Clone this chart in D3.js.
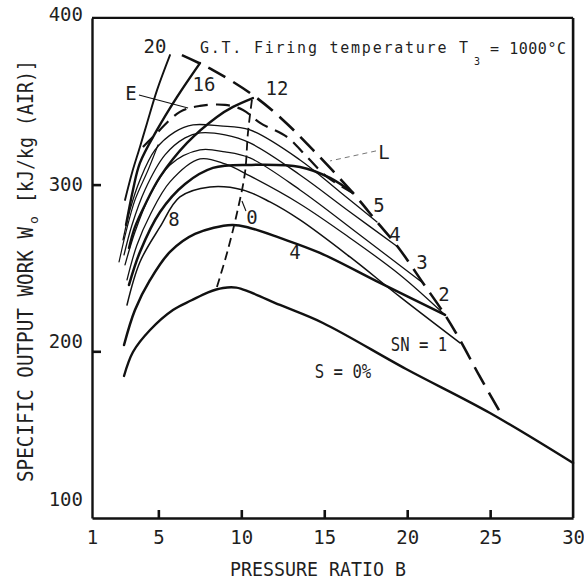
<!DOCTYPE html>
<html>
<head>
<meta charset="utf-8">
<script src="https://cdn.jsdelivr.net/npm/d3@7"></script>
<style>
  html, body { margin: 0; padding: 0; background: #fff; }
  svg { display: block; }
  text { font-family: "DejaVu Sans Mono", monospace; fill: #1f1f1f; }
</style>
</head>
<body>
<svg id="chart" width="584" height="582"></svg>
<script>
// Axis ticks
const xTicks = [1, 5, 10, 15, 20, 25, 30];
const yTicks = [100, 200, 300, 400];

// Specific output work [kJ/kg] against pressure ratio, one array per curve
const curveS0 = [[2.93,185.2],[3.47,199.6],[4.50,212.8],[5.88,224.8],[7.0,230.6],[8.0,235.4],[8.9,238.0],[9.7,238.2],[10.5,235.6],[12.33,227.8],[14.92,217.0],[19.93,189.4],[24.99,163.0],[30.0,133.0]];
const curve4  = [[2.93,203.8],[3.59,224.8],[4.50,242.8],[5.70,259.6],[7.21,270.4],[9.44,275.8],[10.52,274.0],[12.33,268.0],[14.74,259.0],[18.36,241.0],[22.28,221.8]];
const curve8  = [[3.11,227.8],[3.89,253.6],[5.10,274.6],[6.30,292.6],[8.11,298.6],[10.10,296.8],[11.73,289.6],[13.54,278.8],[16.55,256.6],[19.57,232.6],[23.18,205.0]];
const curveL  = [[3.23,239.8],[3.89,259.6],[5.10,283.6],[6.61,300.4],[8.29,310.0],[10.52,311.8],[13.54,310.6],[15.35,304.0],[16.73,295.0]];
const curveSN2 = [[3.11,242.8],[3.71,263.8],[4.50,281.8],[5.70,301.6],[7.51,315.4],[9.02,312.4],[10.52,305.2],[13.54,288.4],[16.55,268.0],[19.57,245.8],[22.28,221.8]];
const curveSN3 = [[2.99,251.8],[3.59,271.6],[4.50,293.8],[5.70,311.8],[7.51,320.8],[9.02,319.6],[10.52,316.0],[13.54,296.8],[17.15,269.8],[20.95,241.0]];
const curveSN4 = [[2.93,257.8],[3.41,275.8],[4.19,296.8],[5.40,317.8],[6.61,328.0],[7.51,331.0],[9.02,329.8],[10.52,325.0],[13.54,305.8],[16.55,283.6],[19.44,262.6]];
const curveSN5 = [[2.87,266.8],[3.29,284.8],[3.89,302.8],[4.80,320.8],[6.00,331.6],[7.09,335.8],[8.72,335.2],[10.52,332.8],[13.54,314.8],[15.95,295.6],[18.18,277.6]];
const curve12 = [[3.23,262.0],[3.59,274.6],[4.19,287.8],[5.10,304.6],[6.73,325.0],[8.53,340.6],[9.50,346.6],[10.70,351.9]];
const curve16 = [[3.05,275.8],[3.47,296.8],[3.89,313.0],[4.92,332.8],[6.12,352.5],[7.51,372.9]];
const curve20 = [[2.99,290.8],[3.41,307.0],[3.89,322.6],[4.32,337.0],[4.92,356.7],[5.70,377.7]];
const curveSteep = [[2.63,253.6],[3.05,271.6],[3.59,290.8],[4.38,308.8],[4.98,323.8]];

// Dashed boundaries
const envelopeOuter = [[6.42,377.7],[8.29,368.7],[10.70,353.7],[12.51,338.8],[14.32,320.8],[16.73,295.0],[18.18,277.6],[19.44,262.6],[20.95,241.0],[22.28,221.8],[23.18,206.8],[24.39,184.6],[25.77,160.6]];
const envelopeE = [[4.07,322.6],[4.68,328.6],[6.30,343.6],[7.51,347.2],[9.02,347.8],[10.10,344.8],[11.13,337.0],[12.75,328.6],[13.96,316.6],[15.17,304.6],[16.73,295.0]];
const optimumLine = [[8.53,238.6],[9.14,259.0],[9.74,283.0],[10.22,307.0],[10.40,331.0],[10.64,350.8]];

// Curve annotations (text, pressure ratio, work)
const labels = [
  ["20", 4.80, 383.1], ["16", 7.75, 360.1], ["12", 12.15, 357.7], ["E", 3.35, 354.6],
  ["L", 18.60, 319.6], ["5", 18.30, 287.8], ["4", 19.26, 270.4], ["3", 20.89, 253.6],
  ["2", 22.22, 234.4], ["8", 5.94, 279.4], ["0", 10.64, 280.6], ["4", 13.24, 259.6],
  ["SN = 1", 20.71, 204.4], ["S = 0%", 16.13, 188.5]
];
// Leader lines from labels to curves
const leaders = [
  {from: [3.83, 353.7], to: [6.79, 346.0], dashed: false},
  {from: [18.12, 320.2], to: [15.35, 314.2], dashed: true},
  {from: [10.28, 284.2], to: [10.04, 290.2], dashed: false}
];

const svg = d3.select("#chart");
const x = d3.scaleLinear().domain([1, 30]).range([92, 573.1]);
const y = d3.scaleLinear().domain([100, 400]).range([518, 17.9]);
const line = d3.line().x(d => x(d[0])).y(d => y(d[1])).curve(d3.curveCatmullRom.alpha(0.5));

// Frame (top and right edges)
const frame = svg.append("g").attr("stroke", "#111").attr("fill", "none").attr("stroke-width", 2.2);
frame.append("line").attr("x1", x(1)).attr("x2", x(30)).attr("y1", y(400)).attr("y2", y(400));
frame.append("line").attr("x1", x(30)).attr("x2", x(30)).attr("y1", y(400)).attr("y2", y(100)).attr("stroke-width", 2.6);

// Axes with inward ticks
const gx = svg.append("g").attr("transform", `translate(0,${y(100)})`)
  .call(d3.axisBottom(x).tickValues(xTicks).tickSize(-8).tickSizeOuter(0).tickPadding(13).tickFormat(d3.format("d")));
const gy = svg.append("g").attr("transform", `translate(${x(1)},0)`)
  .call(d3.axisLeft(y).tickValues(yTicks).tickSize(-9).tickSizeOuter(0).tickPadding(9).tickFormat(d3.format("d")));
[gx, gy].forEach(g => {
  g.attr("font-family", "DejaVu Sans Mono, monospace").attr("font-size", 19).attr("color", "#111");
  g.select(".domain").attr("stroke-width", 2.4);
  g.selectAll(".tick line").attr("stroke-width", 2.6);
  g.selectAll("text").attr("fill", "#1f1f1f");
});
gx.selectAll(".tick line").filter(d => d === 1 || d === 30).remove();
gy.selectAll(".tick line").filter(d => d === 100 || d === 400).remove();
// corner labels sit a little higher than their ticks
const yNudge = {100: -19, 200: -10, 400: -3};
gy.selectAll(".tick text").attr("y", d => yNudge[d] || 0);

// Solid curves
const solids = [
  {pts: curveS0, w: 2.4}, {pts: curve4, w: 2.5}, {pts: curve8, w: 1.5},
  {pts: curveL, w: 2.5}, {pts: curveSN2, w: 1.3}, {pts: curveSN3, w: 1.3},
  {pts: curveSN4, w: 1.3}, {pts: curveSN5, w: 1.3}, {pts: curve12, w: 2.4},
  {pts: curve16, w: 2.4}, {pts: curve20, w: 1.9}, {pts: curveSteep, w: 1.2}
];
svg.append("g").attr("fill", "none").attr("stroke", "#111").attr("stroke-linecap", "round")
  .selectAll("path").data(solids).join("path")
  .attr("d", d => line(d.pts)).attr("stroke-width", d => d.w);

// Dashed curves
const dashed = [
  {pts: envelopeOuter, w: 2.6, dash: "20,9"},
  {pts: envelopeE, w: 2.2, dash: "14,8"},
  {pts: optimumLine, w: 1.8, dash: "9,5"}
];
svg.append("g").attr("fill", "none").attr("stroke", "#111")
  .selectAll("path").data(dashed).join("path")
  .attr("d", d => line(d.pts)).attr("stroke-width", d => d.w).attr("stroke-dasharray", d => d.dash);

// Leaders
svg.append("g").selectAll("line").data(leaders).join("line")
  .attr("x1", d => x(d.from[0])).attr("y1", d => y(d.from[1]))
  .attr("x2", d => x(d.to[0])).attr("y2", d => y(d.to[1]))
  .attr("stroke", d => d.dashed ? "#666" : "#111")
  .attr("stroke-width", d => d.dashed ? 0.9 : 1.1)
  .attr("stroke-dasharray", d => d.dashed ? "5,4" : null);

// Curve labels
svg.append("g").selectAll("text").data(labels).join("text")
  .attr("x", d => x(d[1])).attr("y", d => y(d[2])).attr("dy", "0.36em")
  .attr("text-anchor", "middle").attr("font-size", d => d[0].length > 2 ? 20 : 19)
  .text(d => d[0])
  .each(function(d) {
    if (d[0].length > 2) {
      const w = this.getComputedTextLength();
      d3.select(this).attr("textLength", w * 0.78).attr("lengthAdjust", "spacingAndGlyphs");
    }
  });

// Title
const title = svg.append("g");
title.append("text").attr("x", 200).attr("y", 53).attr("font-size", 15)
  .attr("textLength", 268).text("G.T. Firing temperature T");
title.append("text").attr("x", 474).attr("y", 65).attr("font-size", 10).text("3");
title.append("text").attr("x", 490).attr("y", 54).attr("font-size", 15)
  .attr("textLength", 76).text("= 1000°C");

// Axis titles
svg.append("text").attr("x", 230).attr("y", 576).attr("font-size", 20)
  .attr("textLength", 176).attr("lengthAdjust", "spacingAndGlyphs").text("PRESSURE RATIO B");
svg.append("text").attr("transform", "translate(33,482) rotate(-90)").attr("font-size", 22)
  .attr("textLength", 255).attr("lengthAdjust", "spacingAndGlyphs").text("SPECIFIC OUTPUT WORK W");
svg.append("text").attr("transform", "translate(38,224) rotate(-90)").attr("font-size", 13).text("o");
svg.append("text").attr("transform", "translate(33,203) rotate(-90)").attr("font-size", 22)
  .attr("textLength", 143).attr("lengthAdjust", "spacingAndGlyphs").text("[kJ/kg (AIR)]");
</script>
</body>
</html>
